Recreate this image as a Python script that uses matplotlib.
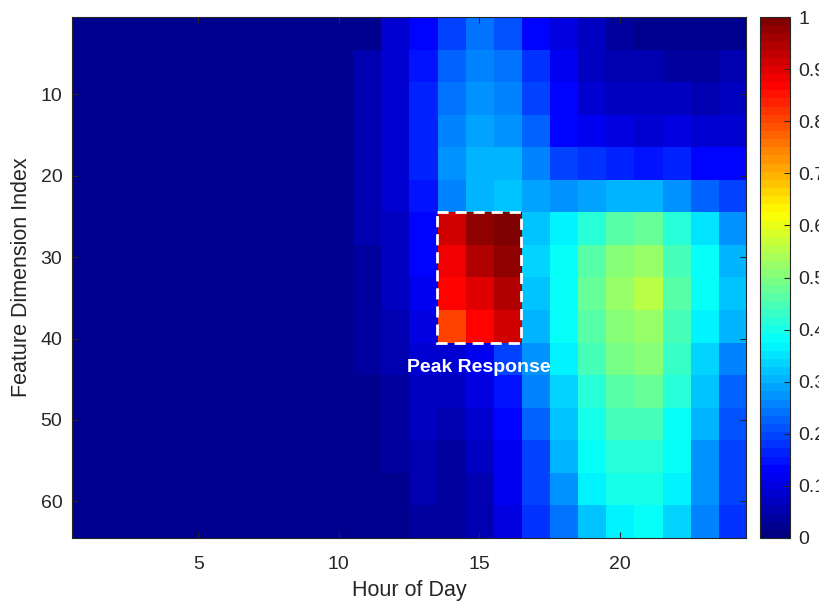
import numpy as np
import matplotlib
matplotlib.use('Agg')
import matplotlib.pyplot as plt
from matplotlib.patches import Rectangle
from matplotlib.colors import LinearSegmentedColormap

plt.rcParams['font.family'] = ['Liberation Sans', 'DejaVu Sans']

# Hours 1-24, feature dims 1-64 (values read in blocks of 4 dims)
hours = list(range(1, 25))
n_dims = 64
block = 4

# hours 1-10 are flat
quiet_level = [0.02, 0.02, 0.02, 0.02, 0.02, 0.02, 0.02, 0.02, 0.02, 0.025]

hour11 = [0.03, 0.05, 0.05, 0.05, 0.05, 0.05, 0.05, 0.045, 0.045, 0.04, 0.035, 0.03, 0.03, 0.03, 0.03, 0.03]
hour12 = [0.08, 0.09, 0.09, 0.09, 0.085, 0.08, 0.075, 0.07, 0.065, 0.06, 0.05, 0.045, 0.04, 0.035, 0.03, 0.03]
hour13 = [0.13, 0.15, 0.16, 0.16, 0.16, 0.15, 0.135, 0.125, 0.115, 0.105, 0.09, 0.075, 0.065, 0.055, 0.05, 0.045]
hour14 = [0.2, 0.225, 0.24, 0.26, 0.275, 0.25, 0.92, 0.89, 0.86, 0.81, 0.09, 0.065, 0.05, 0.045, 0.04, 0.035]
hour15 = [0.24, 0.25, 0.275, 0.29, 0.305, 0.31, 0.97, 0.94, 0.9, 0.86, 0.12, 0.095, 0.08, 0.07, 0.06, 0.055]
hour16 = [0.21, 0.24, 0.26, 0.275, 0.3, 0.32, 1.0, 0.98, 0.95, 0.92, 0.19, 0.15, 0.13, 0.12, 0.11, 0.1]
hour17 = [0.14, 0.175, 0.2, 0.225, 0.26, 0.295, 0.32, 0.33, 0.325, 0.31, 0.28, 0.25, 0.22, 0.2, 0.19, 0.175]
hour18 = [0.1, 0.12, 0.125, 0.135, 0.19, 0.28, 0.37, 0.385, 0.39, 0.38, 0.36, 0.34, 0.325, 0.31, 0.28, 0.24]
hour19 = [0.07, 0.075, 0.09, 0.11, 0.175, 0.29, 0.42, 0.46, 0.47, 0.465, 0.44, 0.42, 0.4, 0.385, 0.37, 0.32]
hour20 = [0.04, 0.06, 0.075, 0.1, 0.16, 0.3, 0.46, 0.5, 0.52, 0.51, 0.49, 0.46, 0.44, 0.42, 0.4, 0.37]
hour21 = [0.03, 0.05, 0.07, 0.09, 0.15, 0.3, 0.48, 0.53, 0.55, 0.53, 0.5, 0.47, 0.44, 0.42, 0.4, 0.38]
hour22 = [0.03, 0.04, 0.07, 0.1, 0.16, 0.27, 0.42, 0.45, 0.46, 0.45, 0.43, 0.41, 0.39, 0.375, 0.36, 0.34]
hour23 = [0.03, 0.04, 0.06, 0.09, 0.14, 0.23, 0.35, 0.38, 0.385, 0.37, 0.34, 0.32, 0.3, 0.28, 0.27, 0.25]
hour24 = [0.03, 0.05, 0.07, 0.09, 0.125, 0.19, 0.27, 0.31, 0.32, 0.3, 0.26, 0.23, 0.21, 0.2, 0.19, 0.18]

# highlighted region
peak_hours = [14, 16]
peak_dims = [25, 40]
peak_label = 'Peak Response'

# build the 64 x 24 matrix
cols = [np.full(n_dims, v) for v in quiet_level]
for h in [hour11, hour12, hour13, hour14, hour15, hour16, hour17,
          hour18, hour19, hour20, hour21, hour22, hour23, hour24]:
    cols.append(np.repeat(h, block))
data = np.column_stack(cols)

# matlab style jet, 64 levels
jet64 = LinearSegmentedColormap.from_list(
    'mjet', [(0, (0, 0, 0.5)), (0.125, (0, 0, 1)), (0.375, (0, 1, 1)),
             (0.625, (1, 1, 0)), (0.875, (1, 0, 0)), (1, (0.5, 0, 0))], N=64)

axis_col = '#262626'

fig = plt.figure(figsize=(8.19, 6.03), dpi=100)
ax = fig.add_axes([0.0879, 0.1078, 0.8230, 0.8640])
cax = fig.add_axes([0.928, 0.1078, 0.0366, 0.8640])

im = ax.imshow(data, cmap=jet64, vmin=0, vmax=1, aspect='auto',
               interpolation='nearest',
               extent=(hours[0] - 0.5, hours[-1] + 0.5, n_dims + 0.5, 0.5))

# dashed box round the peak
rect = Rectangle((peak_hours[0] - 0.5, peak_dims[0] - 0.5),
                 peak_hours[1] - peak_hours[0] + 1, peak_dims[1] - peak_dims[0] + 1,
                 fill=False, edgecolor='white', linewidth=2, linestyle=(0, (4, 2.5)))
ax.add_patch(rect)
ax.text(np.mean(peak_hours), peak_dims[1] + 3.5, peak_label, color='white',
        fontsize=14, fontweight='bold', ha='center', va='center')

ax.set_xticks([5, 10, 15, 20])
ax.set_yticks([10, 20, 30, 40, 50, 60])
ax.tick_params(direction='in', length=4, width=0.8, colors=axis_col, labelsize=14,
               top=True, right=True)
ax.tick_params(axis='x', pad=13)
ax.tick_params(axis='y', pad=7)
ax.set_xlabel('Hour of Day', fontsize=15.5, color=axis_col, labelpad=5)
ax.set_ylabel('Feature Dimension Index', fontsize=15.5, color=axis_col, labelpad=6)
for s in ax.spines.values():
    s.set_color(axis_col)
    s.set_linewidth(0.8)

cb = fig.colorbar(im, cax=cax, ticks=np.linspace(0, 1, 11))
cb.ax.set_yticklabels(['0', '0.1', '0.2', '0.3', '0.4', '0.5', '0.6', '0.7', '0.8', '0.9', '1'])
cb.ax.tick_params(direction='in', length=4, width=0.8, colors=axis_col, labelsize=14, pad=6)
cb.outline.set_edgecolor(axis_col)
cb.outline.set_linewidth(0.8)

fig.savefig('out.png', dpi=100)
